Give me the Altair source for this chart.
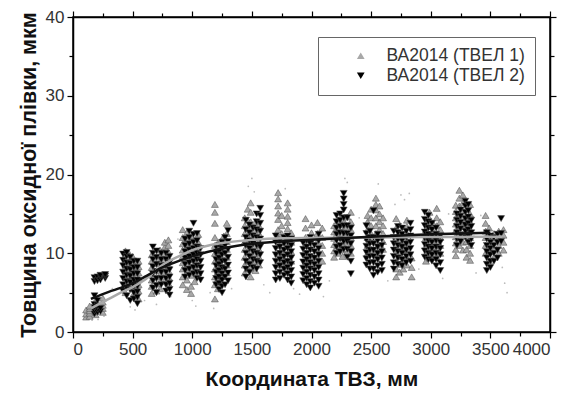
import altair as alt
import pandas as pd

LABEL_1 = "ВА2014 (ТВЕЛ 1)"
LABEL_2 = "ВА2014 (ТВЕЛ 2)"

# ТВЕЛ 1: axial position of each measurement column (mm) and its oxide thickness readings (µm)
t1_x = [110, 140, 190, 250,
        440, 470, 500, 525, 550,
        660, 700, 730, 770, 800,
        920, 955, 990, 1020, 1050,
        1190, 1215, 1240, 1265, 1290,
        1440, 1465, 1490, 1530, 1560,
        1720, 1750, 1800, 1830,
        1950, 2000, 2050, 2090,
        2190, 2225, 2260, 2300, 2330,
        2470, 2500, 2540, 2570, 2600,
        2710, 2740, 2770, 2800, 2840,
        2960, 2990, 3020, 3050, 3080,
        3210, 3240, 3270, 3300, 3330,
        3460, 3490, 3530, 3570, 3610]
t1_y = [
    [1.9, 2.3, 2.8], [2.0, 2.4, 2.7, 3.0, 3.3], [2.2, 2.6, 2.9, 3.2, 3.6, 4.0], [2.5, 3.0, 3.4, 3.8, 4.3],
    [5.0, 6.2, 7.0, 7.8, 8.5, 9.2, 9.8, 10.3], [5.8, 6.7, 7.5, 8.3, 9.0, 10.0], [4.6, 5.5, 6.4, 7.2, 8.0, 8.8, 9.6],
    [4.9, 5.7, 6.5, 7.9, 8.7], [4.2, 5.2, 6.0, 6.8, 7.5, 8.3, 9.0],
    [4.9, 5.8, 6.6, 7.4, 8.2, 9.0, 9.8], [5.2, 6.1, 7.0, 7.8, 8.7, 9.5], [5.5, 6.4, 7.3, 8.1, 8.9, 9.7, 10.4],
    [6.6, 7.6, 8.4, 9.2, 10.0, 10.8, 11.4], [6.2, 7.0, 7.8, 8.6, 9.4, 10.2, 11.0, 11.7],
    [6.0, 7.0, 8.0, 8.8, 9.6, 10.4, 11.2, 12.0, 13.0], [5.4, 6.6, 7.6, 8.5, 9.4, 10.8, 11.8, 12.6],
    [4.9, 5.8, 7.2, 8.2, 9.2, 10.2, 11.2, 12.2], [6.4, 7.8, 8.9, 10.0, 11.0], [7.5, 8.5, 9.4, 10.4, 11.4, 12.4],
    [4.2, 6.0, 7.0, 8.0, 9.0, 10.0, 11.0, 12.0, 13.8, 15.2, 16.2], [5.5, 6.8, 7.8, 9.0, 10.2, 11.3],
    [6.5, 7.5, 8.5, 9.5, 10.5, 11.5], [7.0, 8.0, 9.2, 10.2, 11.2, 12.2], [7.5, 8.5, 9.5, 10.5, 11.5, 12.5, 13.8],
    [7.5, 8.5, 9.5, 10.5, 11.5, 12.5, 13.5, 14.5], [8.0, 9.0, 10.2, 11.2, 12.2, 13.2, 14.2, 15.6],
    [7.0, 8.0, 9.0, 10.0, 11.0, 12.0, 13.0, 14.0, 15.2, 16.4], [7.8, 9.0, 10.0, 11.0, 12.0, 13.0, 14.0],
    [8.5, 9.5, 10.5, 11.5, 12.5, 13.5],
    [9.0, 10.0, 11.0, 12.0, 13.0, 14.3, 15.1, 16.0, 16.9, 17.7], [8.5, 9.5, 10.5, 11.5, 12.5, 13.5, 14.8],
    [8.0, 9.0, 10.0, 11.0, 12.0, 13.1, 13.9, 14.7, 15.6, 16.4], [9.0, 10.2, 11.4, 12.6],
    [8.0, 9.0, 10.0, 11.0, 12.0, 13.2, 14.4], [8.6, 9.6, 10.6, 11.6, 12.6, 13.6],
    [8.5, 9.5, 10.5, 11.5, 12.5, 13.9], [9.0, 10.0, 11.0, 12.0, 13.2],
    [9.5, 10.3, 11.1, 11.9, 12.7, 13.5], [10.0, 11.0, 12.2, 13.2, 14.2], [9.6, 10.4, 11.2, 12.0, 12.8, 13.6, 14.4],
    [10.2, 11.4, 12.4, 13.4, 14.6], [10.0, 11.0, 12.0, 13.0, 14.0, 15.2],
    [10.0, 11.0, 12.0, 13.0, 14.0, 14.8], [10.5, 11.5, 12.5, 13.5, 14.5, 15.6],
    [9.5, 10.5, 11.5, 12.5, 13.5, 14.5, 15.5, 16.2, 17.0], [10.0, 11.0, 12.0, 13.0, 14.0, 15.0, 16.0],
    [10.5, 11.5, 12.5, 13.5, 14.5],
    [7.0, 8.0, 9.0, 10.0, 11.0, 12.0, 13.2, 14.4], [7.6, 8.6, 9.6, 10.6, 11.6, 12.6, 13.6],
    [8.0, 9.2, 10.2, 11.2, 12.2], [8.5, 9.5, 10.5, 11.5, 12.5, 13.4, 14.2], [7.0, 8.2, 9.4],
    [9.0, 10.0, 11.0, 12.0, 13.0, 14.0], [9.4, 10.4, 11.4, 12.4, 13.4, 14.4, 15.2], [9.8, 10.8, 11.8, 12.8, 13.8],
    [9.5, 10.5, 11.5, 12.5, 13.5, 14.5, 15.7], [10.0, 11.0, 12.0, 13.0, 14.0],
    [9.7, 10.5, 11.3, 12.1, 12.9, 13.7, 14.5, 15.3, 16.1], [11.0, 12.0, 13.0, 14.0, 15.0, 16.0, 17.0, 18.0],
    [10.4, 11.4, 12.4, 13.4, 14.4, 15.4, 16.4, 17.4], [9.5, 10.5, 11.5, 12.5, 13.5, 14.6],
    [9.1, 10.0, 11.0, 12.0, 13.0, 14.0, 15.0, 16.2],
    [10.0, 11.0, 12.0, 12.8, 13.8, 14.8], [9.0, 10.2, 11.2, 12.2, 13.2], [9.5, 10.5, 11.5, 12.5],
    [10.0, 11.0, 12.0, 12.8], [10.4, 11.4, 12.3, 13.0],
]

# ТВЕЛ 2
t2_x = [180, 205, 230, 270,
        420, 450, 480, 510, 540,
        670, 700, 740, 780, 810,
        940, 975, 1010, 1040, 1070,
        1200, 1225, 1250, 1275, 1300,
        1450, 1480, 1510, 1540, 1570,
        1700, 1735, 1770, 1800, 1830,
        1930, 1960, 1990, 2025, 2060,
        2210, 2240, 2270, 2300, 2330,
        2460, 2490, 2520, 2555, 2590,
        2690, 2725, 2760, 2795, 2830,
        2950, 2980, 3010, 3045, 3080,
        3220, 3250, 3290, 3315, 3340,
        3470, 3500, 3530, 3560, 3590]
t2_y = [
    [2.3, 2.7, 3.1, 3.5, 4.6, 6.4, 6.9], [2.5, 2.9, 3.3, 4.0, 6.5, 7.0], [2.6, 3.0, 6.6, 7.0, 7.2], [6.8, 7.1, 7.3],
    [5.2, 6.0, 6.8, 7.6, 8.4, 9.1, 9.9], [4.6, 5.6, 6.4, 7.2, 8.0, 8.8, 9.6, 10.1], [4.0, 5.4, 6.3, 7.1, 7.9, 8.7, 9.5],
    [4.2, 5.0, 5.8, 6.6, 7.4, 8.2, 9.0], [3.6, 4.4, 5.1, 5.8, 6.6, 7.4, 8.2, 9.0],
    [5.6, 6.5, 7.4, 8.3, 9.2, 10.0, 10.8], [5.0, 5.9, 6.8, 7.7, 8.6, 9.5, 10.3], [6.0, 6.8, 7.6, 8.4, 9.2, 10.0],
    [5.2, 6.0, 6.8, 7.6, 8.4, 9.2, 10.0], [4.7, 5.4, 6.2, 7.0, 7.9, 8.8, 9.6],
    [7.0, 7.8, 8.6, 9.4, 10.2, 11.0, 11.8], [7.2, 8.0, 8.8, 9.6, 10.4, 11.2, 12.0, 12.8],
    [7.4, 8.2, 9.0, 9.8, 10.6, 11.4, 12.4, 13.8], [6.8, 7.6, 8.4, 9.2, 10.0, 10.8, 11.6, 12.5],
    [6.6, 7.4, 8.2, 9.0, 9.8, 10.6],
    [6.0, 6.8, 7.6, 8.4, 9.2, 10.0, 10.8], [5.4, 6.2, 7.0, 7.8, 8.6, 9.4, 10.2, 11.0],
    [5.0, 5.8, 6.6, 7.4, 8.2, 9.0, 9.8, 10.6, 11.4], [6.0, 7.0, 8.0, 9.0, 10.0, 11.0, 12.0],
    [6.5, 7.5, 8.5, 9.5, 10.5, 11.5, 12.9],
    [7.0, 8.0, 9.0, 10.0, 11.0, 12.0, 13.0, 14.2], [7.6, 8.6, 9.6, 10.6, 11.6, 12.6, 13.6],
    [8.2, 9.2, 10.2, 11.2, 12.2, 13.2], [8.0, 9.0, 10.0, 11.0, 12.0, 13.0, 14.0, 15.0],
    [8.8, 9.8, 10.8, 11.8, 12.8, 13.8, 14.8, 15.7],
    [6.6, 7.4, 8.2, 9.0, 9.8, 10.6, 11.4, 12.2], [6.8, 7.6, 8.4, 9.2, 10.0, 10.8, 11.6],
    [7.2, 8.0, 8.8, 9.6, 10.4, 11.2, 12.0], [6.6, 7.4, 8.2, 9.0, 9.8, 10.6, 11.4, 12.2],
    [6.2, 7.0, 7.8, 8.6, 9.4, 10.2, 11.0, 11.8],
    [6.5, 7.3, 8.1, 8.9, 9.7, 10.5, 11.3], [6.0, 6.8, 7.6, 8.4, 9.2, 10.0, 10.8, 11.6],
    [5.6, 6.4, 7.2, 8.0, 8.8, 9.6, 10.4, 11.2, 12.0], [6.2, 7.0, 7.8, 8.6, 9.4, 10.2, 11.0],
    [5.8, 6.6, 7.4, 8.2, 9.0, 9.8, 10.6, 11.6, 12.4],
    [10.0, 10.8, 11.6, 12.4, 13.2, 14.0, 14.8], [10.2, 11.0, 11.8, 12.6, 13.4, 14.2, 15.0],
    [10.5, 11.5, 12.5, 13.5, 14.5, 15.5, 16.2, 16.9, 17.6], [9.5, 10.5, 11.5, 12.5, 13.5, 14.5],
    [7.4, 9.0, 10.2, 11.2, 12.2, 13.2],
    [8.5, 9.3, 10.1, 10.9, 11.7, 12.5, 13.5], [8.0, 8.8, 9.6, 10.4, 11.2, 12.0, 12.8],
    [7.2, 8.0, 8.8, 9.6, 10.4, 11.2, 12.0, 15.4], [7.6, 8.4, 9.2, 10.0, 10.8, 11.6, 12.4],
    [7.8, 8.6, 9.4, 10.2, 11.0, 11.8],
    [8.0, 8.8, 9.6, 10.4, 11.2, 12.0, 12.8], [8.6, 9.4, 10.2, 11.0, 11.8, 12.6, 13.4],
    [8.4, 9.2, 10.0, 10.8, 11.6, 12.4, 13.2], [8.8, 9.6, 10.4, 11.2, 12.0, 12.8],
    [9.0, 9.8, 10.6, 11.4, 12.2, 13.0, 13.8],
    [9.5, 10.3, 11.1, 11.9, 12.7, 13.5, 14.3, 15.2], [9.2, 10.0, 10.8, 11.6, 12.4, 13.2, 14.0, 14.8],
    [9.0, 9.8, 10.6, 11.4, 12.2, 13.0, 13.8], [8.4, 9.2, 10.0, 10.8, 11.6, 12.4, 13.2],
    [7.8, 8.8, 9.8, 10.6, 11.4, 12.2],
    [11.0, 11.8, 12.6, 13.4, 14.2, 15.0], [11.5, 12.3, 13.1, 13.9, 14.7, 15.5],
    [12.0, 12.8, 13.6, 14.4, 15.2, 16.0, 16.6], [11.4, 12.2, 13.0, 13.8, 14.6, 15.4, 16.2],
    [11.0, 11.8, 12.6, 13.4, 14.2],
    [7.8, 8.6, 9.4, 10.2, 11.0, 11.8, 12.6], [8.2, 9.0, 9.8, 10.6, 11.4, 12.2], [9.0, 10.0, 11.0, 12.0],
    [9.4, 10.4, 11.4, 12.4], [11.5, 12.5, 14.4],
]

# Scattered single readings (light grey dots)
dots_x = [120, 160, 210, 260, 330, 480, 520, 600, 700, 760, 820, 880, 1000, 1030, 1150,
          1180, 1330, 1470, 1500, 1520, 1600, 1650, 1780, 1850, 1900, 2100, 2150, 2280,
          2300, 2400, 2560, 2640, 2700, 2750, 2780, 2820, 2900, 3100, 3150, 3380, 3420,
          3600, 3620, 3640]
dots_y = [1.8, 1.5, 1.6, 2.0, 5.5, 3.2, 2.8, 4.0, 3.5, 10.5, 4.5, 11.8, 4.0, 3.3, 5.0,
          3.0, 5.5, 18.5, 19.5, 17.8, 6.0, 5.0, 18.2, 5.5, 4.8, 4.5, 6.5, 19.5,
          19.0, 14.5, 18.8, 6.5, 16.2, 17.4, 16.8, 17.6, 8.0, 6.8, 15.0, 7.5, 14.8,
          8.2, 6.2, 5.0]

# Fitted trend curves
fit1_x = [150, 200, 300, 400, 500, 600, 750, 900, 1000, 1250, 1500, 1750, 2000, 2500, 3000, 3500, 3600]
fit1_y = [3.0, 3.4, 4.2, 5.0, 5.7, 6.6, 8.5, 9.7, 10.4, 11.3, 11.7, 11.9, 11.95, 12.0, 12.05, 12.1, 12.1]
fit2_x = [150, 200, 300, 400, 500, 600, 750, 900, 1000, 1250, 1500, 1750, 2000, 2500, 3000, 3500]
fit2_y = [4.2, 4.5, 5.1, 5.6, 6.2, 7.0, 8.2, 9.1, 9.6, 10.6, 11.2, 11.5, 11.7, 12.1, 12.4, 12.6]

rows = []
for label, xs, ys in ((LABEL_1, t1_x, t1_y), (LABEL_2, t2_x, t2_y)):
    for x, col in zip(xs, ys):
        for y in col:
            rows.append({"x": x, "y": y, "series": label})
pts = pd.DataFrame(rows)
dots = pd.DataFrame({"x": dots_x, "y": dots_y})
fit1 = pd.DataFrame({"x": fit1_x, "y": fit1_y})
fit2 = pd.DataFrame({"x": fit2_x, "y": fit2_y})

FONT = "Liberation Sans"
xscale = alt.Scale(domain=[0, 4000], nice=False, zero=False)
yscale = alt.Scale(domain=[0, 40], nice=False)

x_axis = alt.Axis(
    orient="bottom", values=list(range(0, 4001, 250)), format="d",
    labelExpr="datum.value % 500 == 0 ? datum.label : ''",
    tickSize={"condition": {"test": "datum.value % 500 == 0", "value": 6}, "value": 4},
    gridOpacity={"condition": {"test": "datum.value % 500 == 0", "value": 1}, "value": 0},
    title="Координата ТВЗ, мм", titlePadding=11, titleFontSize=21,
)
y_axis = alt.Axis(
    orient="left", values=list(range(0, 41, 5)), format="d",
    labelExpr="datum.value % 10 == 0 ? datum.label : ''",
    tickSize={"condition": {"test": "datum.value % 10 == 0", "value": 6}, "value": 4},
    gridOpacity={"condition": {"test": "datum.value % 10 == 0", "value": 1}, "value": 0},
    title="Товщина оксидної плівки, мкм", titlePadding=5, titleFontSize=21.5,
)

dot_layer = alt.Chart(dots).mark_circle(size=3, color="#b5b5b5", opacity=0.9).encode(
    x=alt.X("x:Q", scale=xscale, axis=None),
    y=alt.Y("y:Q", scale=yscale, axis=None),
)

point_layer = alt.Chart(pts).mark_point(filled=True, size=48, opacity=1, stroke="#4a4a4a", strokeWidth=0.5).encode(
    x=alt.X("x:Q", scale=xscale, axis=x_axis),
    y=alt.Y("y:Q", scale=yscale, axis=y_axis),
    color=alt.Color("series:N",
                    scale=alt.Scale(domain=[LABEL_1, LABEL_2], range=["#a8a8a8", "#000000"]),
                    legend=alt.Legend(title=None, orient="none", legendX=245, legendY=20,
                                      strokeColor="#666", fillColor="white", padding=10,
                                      symbolOffset=24, labelOffset=17, rowPadding=1,
                                      labelFont=FONT, labelFontSize=17.5, labelColor="#333",
                                      symbolSize=60, symbolStrokeWidth=0)),
    shape=alt.Shape("series:N",
                    scale=alt.Scale(domain=[LABEL_1, LABEL_2], range=["triangle-up", "triangle-down"]),
                    legend=None),
)

line1 = alt.Chart(fit1).mark_line(color="#a9a9a9", strokeWidth=2.5, interpolate="monotone").encode(
    x=alt.X("x:Q", scale=xscale, axis=None),
    y=alt.Y("y:Q", scale=yscale, axis=None),
)
line2 = alt.Chart(fit2).mark_line(color="#111111", strokeWidth=2.5, interpolate="monotone").encode(
    x=alt.X("x:Q", scale=xscale, axis=None),
    y=alt.Y("y:Q", scale=yscale, axis=None),
)

# Mirror axes on top and right (ticks only) to close the frame
frame = alt.Chart(fit1).mark_point(opacity=0).encode(
    x=alt.X("x:Q", scale=xscale, axis=alt.Axis(
        orient="top", values=list(range(0, 4001, 250)), labels=False, title=None, grid=False,
        tickSize={"condition": {"test": "datum.value % 500 == 0", "value": 6}, "value": 4})),
    y=alt.Y("y:Q", scale=yscale, axis=alt.Axis(
        orient="right", values=list(range(0, 41, 5)), labels=False, title=None, grid=False,
        tickSize={"condition": {"test": "datum.value % 10 == 0", "value": 6}, "value": 4})),
)

chart = alt.layer(dot_layer, point_layer, line1, line2, frame).properties(
    width=477, height=315,
    padding={"left": 73, "top": 17, "right": 22, "bottom": 62},
    autosize=alt.AutoSizeParams(type="none"),
).configure_axis(
    domainColor="#000", domainWidth=1.5, tickColor="#000", tickWidth=1.2,
    gridColor="#a6a6a6", gridWidth=1.6,
    labelFont=FONT, labelFontSize=17, labelColor="#333", labelPadding=3,
    titleFont=FONT, titleFontWeight="bold", titleColor="#111",
).configure_view(stroke="#000", strokeWidth=1.5)

chart.save("out.html", embed_options={"renderer": "svg", "actions": False})
